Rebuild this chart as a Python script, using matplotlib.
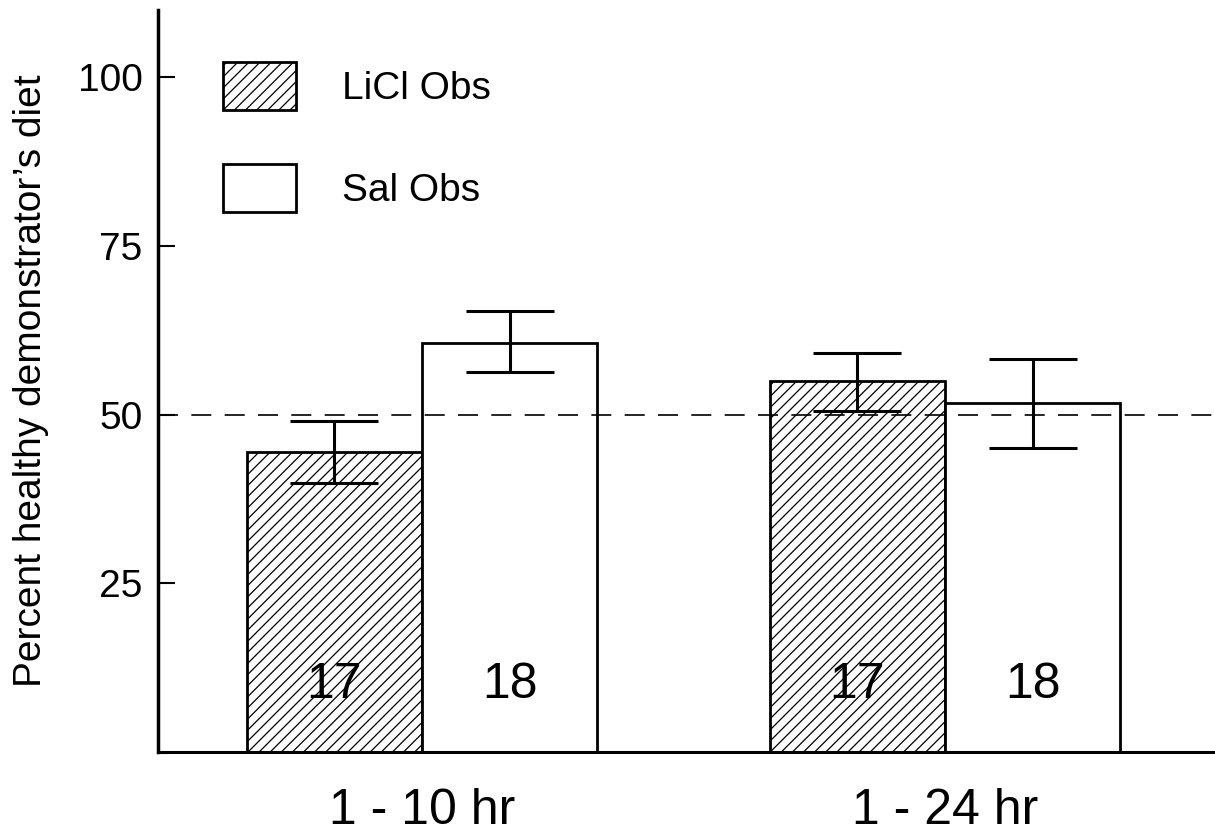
import numpy as np
import matplotlib
matplotlib.use("Agg")
import matplotlib.pyplot as plt

plt.rcParams['font.family'] = ['Liberation Sans', 'DejaVu Sans']
plt.rcParams['hatch.linewidth'] = 0.9

# data
groups = ["1 - 10 hr", "1 - 24 hr"]
series = ["LiCl Obs", "Sal Obs"]
licl_mean = [44.5, 55.0]
licl_lo = [39.9, 50.6]
licl_hi = [49.0, 59.2]
sal_mean = [60.7, 51.8]
sal_lo = [56.4, 45.1]
sal_hi = [65.4, 58.3]
n_labels = ["17", "18"]
yticks = [25, 50, 75, 100]

W, H = 1215, 836
fig = plt.figure(figsize=(W / 100, H / 100), dpi=100)
ax = fig.add_axes([158 / W, 1 - 752 / H, 1 - 158 / W, (752 - 10) / H])

x = np.arange(len(groups))
bw = 0.335

ax.bar(x - bw / 2, licl_mean, bw, color="white", edgecolor="black",
       linewidth=2, hatch="///", label=series[0], zorder=2)
ax.bar(x + bw / 2, sal_mean, bw, color="white", edgecolor="black",
       linewidth=2, label=series[1], zorder=2)

for xs, m, lo, hi in [(x - bw / 2, licl_mean, licl_lo, licl_hi),
                      (x + bw / 2, sal_mean, sal_lo, sal_hi)]:
    m = np.array(m)
    yerr = [m - np.array(lo), np.array(hi) - m]
    ax.errorbar(xs, m, yerr=yerr, fmt="none", ecolor="black",
                elinewidth=2.2, capsize=31.5, capthick=2.2, zorder=3)

# sample sizes inside bars
for i in range(len(groups)):
    ax.text(x[i] - bw / 2, 10, n_labels[0], ha="center", va="center",
            fontsize=36, zorder=4)
    ax.text(x[i] + bw / 2, 10, n_labels[1], ha="center", va="center",
            fontsize=36, zorder=4)

ax.axhline(50, color="black", linewidth=1.2, linestyle=(0, (12, 8)), zorder=5)

ax.set_xlim((158 - 422) / 523, (1215 - 422) / 523)
ax.set_ylim(0, 110)
ax.set_yticks(yticks)
ax.set_yticklabels([str(t) for t in yticks], fontsize=28)
ax.set_xticks(x)
ax.set_xticklabels(groups, fontsize=36)
ax.tick_params(axis="y", direction="in", length=12, width=1.5, pad=11)
ax.tick_params(axis="x", length=0, pad=26)

ax.spines["top"].set_visible(False)
ax.spines["right"].set_visible(False)
ax.spines["left"].set_linewidth(2.5)
ax.spines["bottom"].set_linewidth(2.2)

fig.text(31 / W, 1 - 381 / H, "Percent healthy demonstrator’s diet",
         rotation=90, ha="center", va="center", fontsize=28)

leg = ax.legend(loc="upper left", bbox_to_anchor=(223 / W, 1 - 62 / H),
                bbox_transform=fig.transFigure, frameon=False, fontsize=28,
                handlelength=1.88, handleheight=1.52, handletextpad=1.18,
                labelspacing=1.4, borderpad=0, borderaxespad=0)

fig.savefig("out.png", dpi=100)
